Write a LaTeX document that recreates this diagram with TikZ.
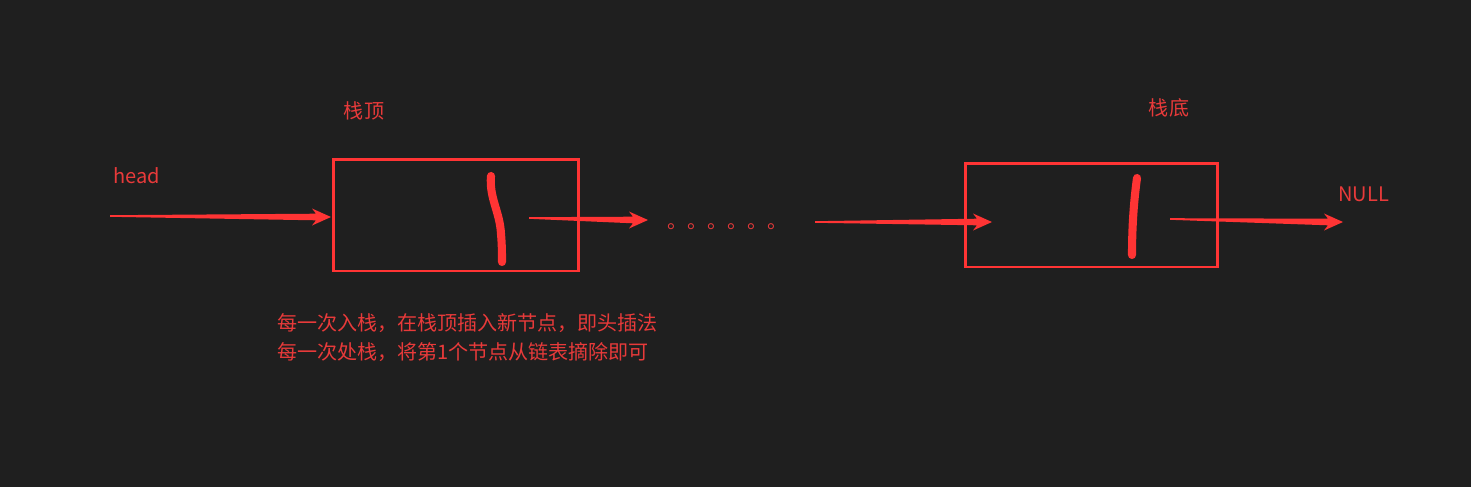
\documentclass[tikz,border=0pt]{standalone}
\usepackage{fontspec}
\setmainfont{Noto Sans CJK SC}
\usepackage{tikz}
\usetikzlibrary{calc}
\definecolor{bgdark}{HTML}{1F1F1F}
\definecolor{stackred}{HTML}{FF3434}
\definecolor{textred}{HTML}{E83A3A}

% tapered arrow, thin at the tail and thick at the head
\newcommand{\taperarrow}[2]{%
  \fill[stackred] ($(#1)+(0,-0.8)$) -- ($(#2)+(-15,-3.3)$) -- ($(#2)+(-19,-8.5)$)
    -- (#2) -- ($(#2)+(-19,8.5)$) -- ($(#2)+(-15,3.3)$) -- ($(#1)+(0,0.8)$) -- cycle;}

\begin{document}
\begin{tikzpicture}[x=0.02cm, y=-0.02cm,
    every node/.style={font=\fontsize{11.4}{16.5}\selectfont, text=textred},
    cell/.style={draw=stackred, line width=1.7pt, inner sep=0pt},
    stroke/.style={draw=stackred, line width=4.6pt, line cap=round}]
    % ── BACKGROUND ───────────────────────────────────────────────────
    \fill[bgdark] (0,0) rectangle (1471,487);

    % ── NODES ────────────────────────────────────────────────────────
    \node[cell, minimum width=4.92cm, minimum height=2.24cm] (top) at (456,215) {};
    \node[cell, minimum width=5.06cm, minimum height=2.08cm] (bottom) at (1091.5,215) {};

    % Labels
    \node[anchor=base west, inner sep=0pt] (head) at (113,183) {head};
    \node (toplabel) at (364,111) {栈顶};
    \node (bottomlabel) at (1169,108) {栈底};
    \node[anchor=base west, inner sep=0pt] (null) at (1338,201) {NULL};
    \node[anchor=base west, inner sep=0pt] (dots) at (667,228) {。。。。。。};
    \node[anchor=west, align=left, inner sep=0pt] (note) at (277,338)
        {每一次入栈，在栈顶插入新节点，即头插法\\每一次处栈，将第1个节点从链表摘除即可};

    % Handwritten data in the cells
    \draw[stroke] (491,176) .. controls (489,198) and (500,212) .. (501,234)
        .. controls (502,245) and (502,255) .. (502,262);
    \draw[stroke] (1137,178) .. controls (1134,200) and (1132,225) .. (1132,255);

    % ── CONNECTORS ───────────────────────────────────────────────────
    \coordinate (headtail) at (110,216);
    \coordinate (headtip) at (331,217);
    \coordinate (toptail) at (529,218);
    \coordinate (toptip) at (648,220);
    \coordinate (dotstail) at (815,222);
    \coordinate (dotstip) at (992,222);
    \coordinate (bottomtail) at (1170,219);
    \coordinate (bottomtip) at (1343,222);
    \taperarrow{headtail}{headtip}
    \taperarrow{toptail}{toptip}
    \taperarrow{dotstail}{dotstip}
    \taperarrow{bottomtail}{bottomtip}
\end{tikzpicture}
\end{document}
